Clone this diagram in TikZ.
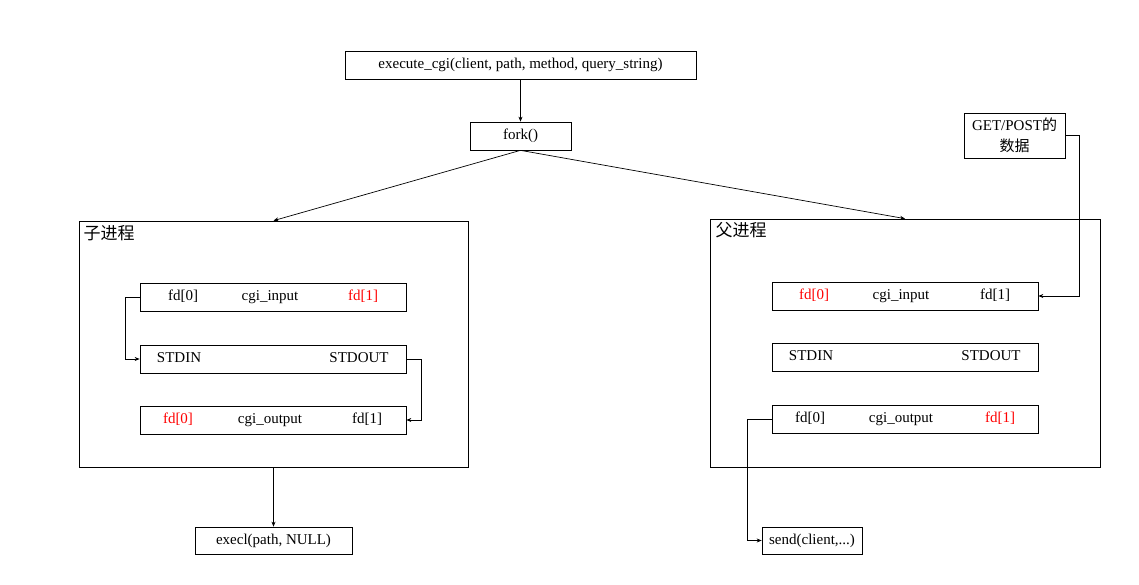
\documentclass[tikz,border=0pt]{standalone}
\usepackage{fontspec}
\setmainfont{Liberation Serif}
\newfontfamily\cjk{Noto Sans CJK SC}
\usetikzlibrary{arrows.meta}

\tikzset{
  box/.style={draw,rectangle,inner sep=0pt,minimum height=28},
  pipe/.style={box,minimum width=266},
  proc/.style={draw,rectangle,inner sep=0pt},
  arr/.style={-{Stealth[length=5pt,width=4pt]}},
  redtxt/.style={text=red},
  lbl/.style={anchor=west,font=\fontsize{17}{20}\selectfont}
}

\begin{document}
\begin{tikzpicture}[x=1pt,y=-1pt,line width=0.7pt,font=\fontsize{15}{18}\selectfont,
  every node/.append style={text height=0.72em,text depth=0pt}]
\useasboundingbox (0,0) rectangle (1139,585);

\node[box,minimum width=351] (exec) at (520.5,65) {execute\_cgi(client, path, method, query\_string)};
\node[box,minimum width=101] (fork) at (520.5,136) {fork()};

% child process
\node[proc,minimum width=389,minimum height=246] (child) at (273.5,344) {};
\node[lbl] (childlbl) at (80,236) {\cjk 子进程};
\node[pipe] (cin) at (273,297) {};
\node[pipe] (cstd) at (273,359) {};
\node[pipe] (cout) at (273,420) {};
\node (cin0) at (183,297) {fd[0]};
\node (cinn) at (270,297) {cgi\_input};
\node[redtxt] (cin1) at (363,297) {fd[1]};
\node (cstdin) at (179,359) {STDIN};
\node (cstdout) at (359,359) {STDOUT};
\node[redtxt] (cout0) at (178,420) {fd[0]};
\node (coutn) at (270,420) {cgi\_output};
\node (cout1) at (367,420) {fd[1]};
\node[box,minimum width=157,minimum height=27] (execl) at (273.5,540.5) {execl(path, NULL)};

% parent process
\node[proc,minimum width=390,minimum height=248] (parent) at (905,343) {};
\node[lbl] (parentlbl) at (712,233) {\cjk 父进程};
\node[pipe] (pin) at (905,296) {};
\node[pipe] (pstd) at (905,357) {};
\node[pipe] (pout) at (905,419) {};
\node[redtxt] (pin0) at (814,296) {fd[0]};
\node (pinn) at (901,296) {cgi\_input};
\node (pin1) at (995,296) {fd[1]};
\node (pstdin) at (811,357) {STDIN};
\node (pstdout) at (991,357) {STDOUT};
\node (pout0) at (810,419) {fd[0]};
\node (poutn) at (901,419) {cgi\_output};
\node[redtxt] (pout1) at (1000,419) {fd[1]};
\node[proc,minimum width=101,minimum height=45,align=center,text height=,text depth=,
  font=\fontsize{15}{21}\selectfont] (data) at (1014.5,135.5) {GET/POST{\cjk 的}\\{\cjk 数据}};
\node[box,minimum width=100,minimum height=27] (send) at (812,540.5) {send(client,...)};

\draw[arr] (exec) -- (fork);
\draw[arr] (fork.south) -- (child.north);
\draw[arr] (fork.south) -- (parent.north);
\draw[arr] (cin.west) -- ++(-14,0) |- (cstd.west);
\draw[arr] (cstd.east) -- ++(15,0) |- (cout.east);
\draw[arr] (child.south) -- (execl.north);
\draw[arr] (data.east) -- ++(14,0) |- (pin.east);
\draw[arr] (pout.west) -- ++(-24,0) |- (send.west);
\end{tikzpicture}
\end{document}
